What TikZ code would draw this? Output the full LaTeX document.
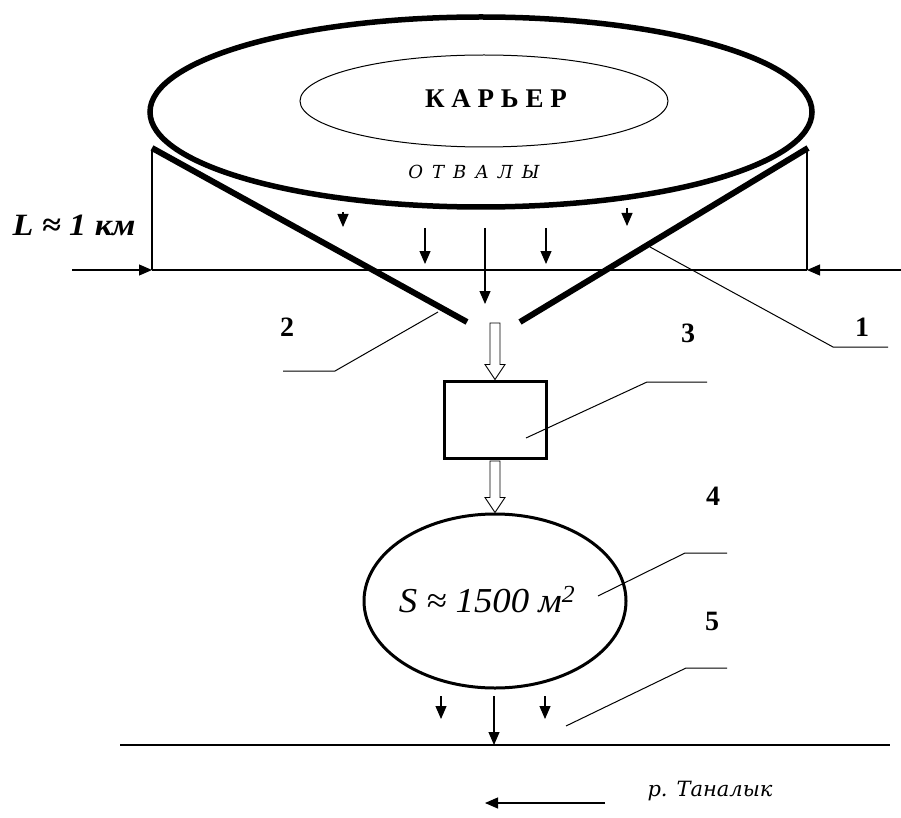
\documentclass[tikz,border=0pt]{standalone}
\usepackage{fontspec}
\usepackage{graphicx}
\setmainfont{Liberation Serif}
\newfontfamily\slabit{DejaVu Serif}
\usetikzlibrary{shapes.geometric,arrows.meta}
\begin{document}
\begin{tikzpicture}[x=1pt,y=-1pt,
  thinline/.style={line width=1.1pt},
  lead/.style={line width=1pt, black},
  darr/.style={line width=1.1pt,-{Triangle[length=13pt,width=11pt]}},
  wall/.style={line width=6pt},
  hollow/.style={draw, line width=0.9pt, fill=white},
  num/.style={font=\bfseries\fontsize{28}{28}\selectfont, inner sep=0pt}
]
\useasboundingbox[fill=white] (0,0) rectangle (901,818);
% pit
\node[ellipse, draw, line width=5.5pt, minimum width=662pt, minimum height=190pt, inner sep=0pt] (pit) at (481,112) {};
\node[ellipse, draw, line width=1pt, minimum width=368pt, minimum height=92pt, inner sep=0pt] (core) at (484,101) {};
\node[font=\bfseries\fontsize{27}{27}\selectfont, inner sep=0pt] (kar) at (496,99) {К А Р Ь Е Р};
\node[font=\slabit\itshape\fontsize{18}{18}\selectfont, inner sep=0pt] (otv) at (474,172) {О\hspace{0.5em}Т\hspace{0.5em}В\hspace{0.5em}А\hspace{0.5em}Л\hspace{0.5em}Ы};
% walls
\coordinate (wl1) at (152,148); \coordinate (wl2) at (467,322);
\coordinate (wr1) at (808,148); \coordinate (wr2) at (520,322);
\draw[wall] (wl1) -- (wl2);
\draw[wall] (wr1) -- (wr2);
% dimension
\coordinate (vl1) at (152,150); \coordinate (vl2) at (152,270);
\coordinate (vr1) at (807,150); \coordinate (vr2) at (807,270);
\coordinate (la) at (72,270); \coordinate (ra) at (901,270);
\draw[thinline] (vl1) -- (vl2);
\draw[thinline] (vr1) -- (vr2);
\draw[thinline] (vl2) -- (vr2);
\draw[darr] (la) -- (vl2);
\draw[darr] (ra) -- (vr2);
\node[font=\bfseries\itshape\fontsize{31}{31}\selectfont, inner sep=0pt] (L) at (74,225) {\scalebox{1.1}[1]{L ≈ 1 км}};
% seepage arrows
\coordinate (a1s) at (343,212); \coordinate (a1e) at (343,227);
\coordinate (a2s) at (425,228); \coordinate (a2e) at (425,264);
\coordinate (a3s) at (485,228); \coordinate (a3e) at (485,304);
\coordinate (a4s) at (546,228); \coordinate (a4e) at (546,264);
\coordinate (a5s) at (627,208); \coordinate (a5e) at (627,226);
\foreach \i in {1,...,5} {\draw[darr] (a\i s) -- (a\i e);}
% box and pond
\node[draw, line width=3pt, minimum width=102pt, minimum height=77pt, inner sep=0pt] (box) at (495,419.5) {};
\node[ellipse, draw, line width=3pt, minimum width=262pt, minimum height=174pt, inner sep=0pt] (pond) at (495,601) {};
\node[font=\itshape\fontsize{35}{35}\selectfont, inner sep=0pt, anchor=base] (area) at (487,612) {\scalebox{1.05}[1]{S ≈ 1500 м\textsuperscript{2}}};
% hollow arrows
\coordinate (h1s) at (495,323);
\draw[hollow] ([xshift=-5pt]h1s) -- ([xshift=5pt]h1s) -- ([xshift=5pt,yshift=15pt]box.north) -- ([xshift=10pt,yshift=15pt]box.north) -- (box.north) -- ([xshift=-10pt,yshift=15pt]box.north) -- ([xshift=-5pt,yshift=15pt]box.north) -- cycle;
\draw[hollow] ([xshift=-5pt,yshift=-1.5pt]box.south) -- ([xshift=5pt,yshift=-1.5pt]box.south) -- ([xshift=5pt,yshift=15pt]pond.north) -- ([xshift=10pt,yshift=15pt]pond.north) -- (pond.north) -- ([xshift=-10pt,yshift=15pt]pond.north) -- ([xshift=-5pt,yshift=15pt]pond.north) -- cycle;
% leaders
\coordinate (l1a) at (650,247); \coordinate (l1b) at (833,347); \coordinate (l1c) at (888,347);
\coordinate (l2a) at (438,312); \coordinate (l2b) at (335,371); \coordinate (l2c) at (283,371);
\coordinate (l3a) at (526,438); \coordinate (l3b) at (647,382); \coordinate (l3c) at (707,382);
\coordinate (l4a) at (598,596); \coordinate (l4b) at (685,553); \coordinate (l4c) at (727,553);
\coordinate (l5a) at (566,726); \coordinate (l5b) at (686,668); \coordinate (l5c) at (727,668);
\foreach \i in {1,...,5} {\draw[lead] (l\i a) -- (l\i b) -- (l\i c);}
\node[num] (n1) at (862,327) {1};
\node[num] (n2) at (287,327) {2};
\node[num] (n3) at (688,333) {3};
\node[num] (n4) at (713,496) {4};
\node[num] (n5) at (712,621) {5};
% bottom arrows and river
\coordinate (b1s) at (441,696); \coordinate (b1e) at (441,719);
\coordinate (b2s) at (494,696); \coordinate (b2e) at (494,745);
\coordinate (b3s) at (545,696); \coordinate (b3e) at (545,719);
\foreach \i in {1,2,3} {\draw[darr] (b\i s) -- (b\i e);}
\coordinate (rv1) at (120,745); \coordinate (rv2) at (890,745);
\draw[thinline] (rv1) -- (rv2);
\coordinate (fl1) at (605,803); \coordinate (fl2) at (485,803);
\draw[darr] (fl1) -- (fl2);
\node[font=\slabit\itshape\fontsize{21}{21}\selectfont, inner sep=0pt, anchor=base] (river) at (710,796) {р. Таналык};
\end{tikzpicture}
\end{document}
